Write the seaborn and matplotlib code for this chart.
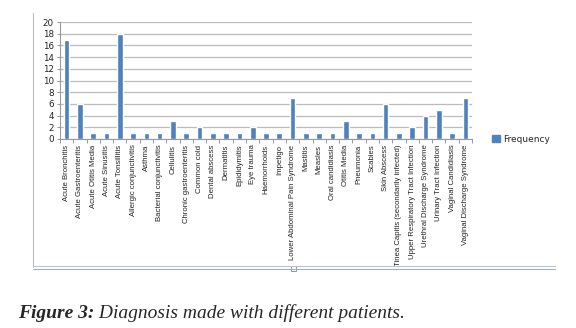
import matplotlib
matplotlib.use("Agg")
import matplotlib.pyplot as plt
import seaborn as sns
import pandas as pd
from matplotlib.lines import Line2D
from matplotlib.patches import Rectangle

categories = [
    "Acute Bronchitis", "Acute Gastroenteritis", "Acute Otitis Media", "Acute Sinusitis",
    "Acute Tonsillitis", "Allergic conjunctivitis", "Asthma", "Bacterial conjunctivitis",
    "Cellulitis", "Chronic gastroenteritis", "Common cold", "Dental abscess", "Dermatitis",
    "Epididymitis", "Eye trauma", "Haemorrhoids", "Impetigo", "Lower Abdominal Pain Syndrome",
    "Mastitis", "Measles", "Oral candidiasis", "Otitis Media", "Pneumonia", "Scabies",
    "Skin Abscess", "Tinea Capitis (secondarily infected)", "Upper Respiratory Tract Infection",
    "Urethral Discharge Syndrome", "Urinary Tract Infection", "Vaginal Candidiasis",
    "Vaginal Discharge Syndrome",
]
frequency = [17, 6, 1, 1, 18, 1, 1, 1, 3, 1, 2, 1, 1, 1, 2, 1, 1, 7,
             1, 1, 1, 3, 1, 1, 6, 1, 2, 4, 5, 1, 7]
y_ticks = list(range(0, 21, 2))
series_name = "Frequency"
caption_bold = "Figure 3:"
caption_rest = " Diagnosis made with different patients."

sns.set_style("white")
plt.rcParams["font.family"] = ["Liberation Sans Narrow", "Liberation Sans", "DejaVu Sans"]

W, H = 576, 328
fig = plt.figure(figsize=(W / 100, H / 100), dpi=100)
ax = fig.add_axes([60 / W, 1 - 139 / H, (472 - 60) / W, (139 - 22) / H])

df = pd.DataFrame({"Diagnosis": categories, series_name: frequency})
bar_color = "#4F81BD"
sns.barplot(data=df, x="Diagnosis", y=series_name, color=bar_color, width=0.42,
            ax=ax, saturation=1)

ax.set_ylim(0, 20)
ax.set_yticks(y_ticks)
ax.set_yticklabels([str(v) for v in y_ticks], fontsize=6.3, color="#222222",
                   family=["DejaVu Sans"])
ax.set_xlim(-0.5, len(categories) - 0.5)
ax.set_xticks(range(len(categories)))
ax.set_xticklabels(categories, rotation=90, fontsize=5.6, color="#222222", va="top")
ax.tick_params(axis="x", length=0, pad=4)
ax.tick_params(axis="y", length=2.5, pad=2, color="#999999", width=0.7, left=True)
ax.set_xticks([i - 0.5 for i in range(len(categories) + 1)], minor=True)
ax.tick_params(axis="x", which="minor", length=3, color="#999999", width=0.7, bottom=True)
ax.set_xlabel("")
ax.set_ylabel("")
ax.grid(axis="y", color="#BBBBBB", linewidth=0.9)
ax.set_axisbelow(True)
for s in ["top", "right"]:
    ax.spines[s].set_visible(False)
for s in ["left", "bottom"]:
    ax.spines[s].set_color("#999999")
    ax.spines[s].set_linewidth(0.8)

# legend
handle = Rectangle((0, 0), 1, 1, color=bar_color)
fig.legend([handle], [series_name], loc="center left", bbox_to_anchor=(484 / W, 1 - 139 / H),
           frameon=False, handlelength=0.9, handleheight=0.9, handletextpad=0.3,
           prop={"family": "DejaVu Sans", "size": 6.5})

# chart box border lines
fig.add_artist(Line2D([33 / W, 33 / W], [1 - 13 / H, 1 - 267 / H], color="#BBBBBB", lw=0.8))
fig.add_artist(Line2D([33 / W, 555 / W], [1 - 266 / H, 1 - 266 / H], color="#B8C4D0", lw=0.8))
fig.add_artist(Line2D([33 / W, 555 / W], [1 - 269 / H, 1 - 269 / H], color="#A0AEBE", lw=0.8))
fig.add_artist(Rectangle((291 / W, 1 - 271 / H), 5 / W, 5 / H, facecolor="white",
                         edgecolor="#8899AA", lw=0.7))

# caption
serif = ["Liberation Serif", "DejaVu Serif"]
t1 = fig.text(18 / W, 1 - 318 / H, caption_bold, fontsize=14, fontweight="bold",
              fontstyle="italic", family=serif, va="baseline")
fig.canvas.draw()
bb = t1.get_window_extent()
fig.text(bb.x1 / fig.bbox.width, 1 - 318 / H, caption_rest, fontsize=14,
         fontstyle="italic", family=serif, va="baseline")

fig.savefig("out.png", dpi=100)
